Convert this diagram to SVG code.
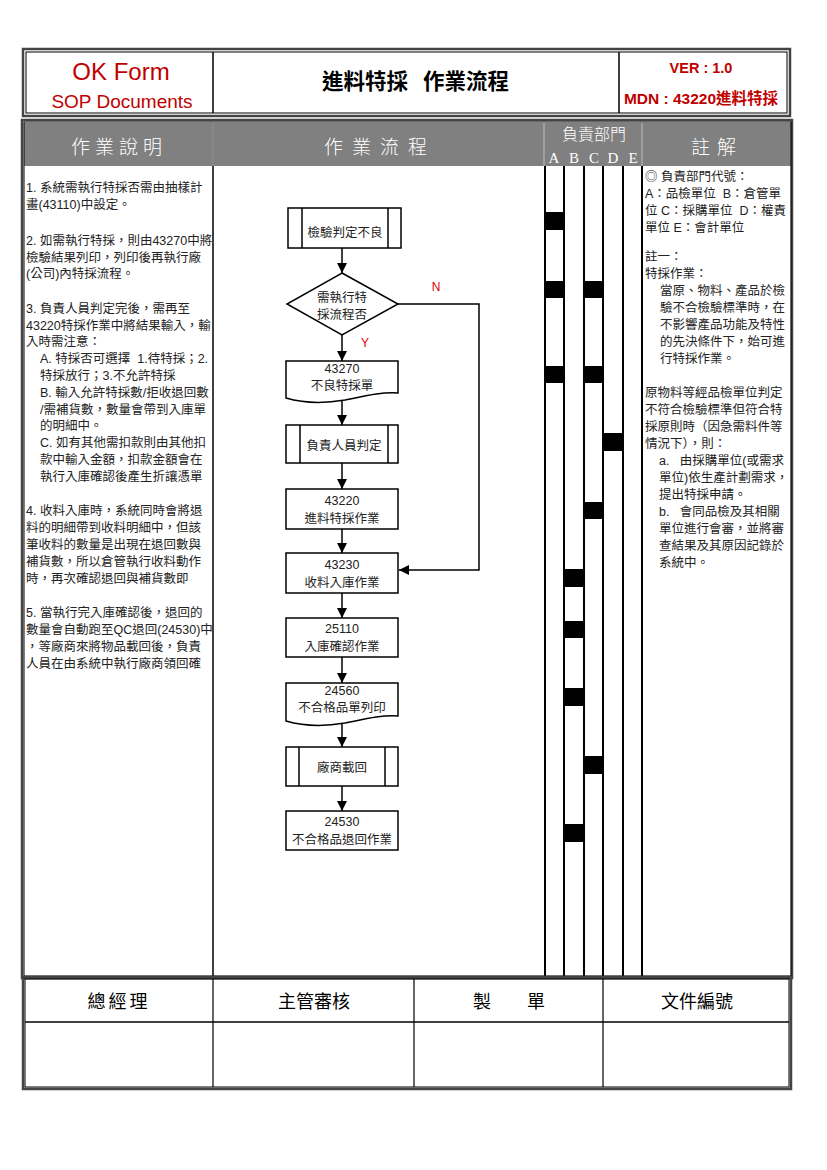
<svg xmlns="http://www.w3.org/2000/svg" width="827" height="1170" viewBox="0 0 827 1170">
<style>
.t{font-family:"Liberation Sans","Noto Sans CJK TC",sans-serif;font-size:12.5px;fill:#222}
.n{font-family:"Liberation Sans","Noto Sans CJK TC",sans-serif;font-size:12.5px;fill:#222;text-anchor:middle}
.hd{font-family:"Noto Sans CJK TC",serif;fill:#fff;text-anchor:middle;font-weight:300}
.ab{font-family:"Liberation Serif",serif;font-size:15px;fill:#fff;text-anchor:middle}
.ft{font-family:"Liberation Sans","Noto Sans CJK TC",sans-serif;font-size:18px;fill:#000;text-anchor:middle}
.red{font-family:"Liberation Sans","Noto Sans CJK TC",sans-serif;fill:#c00000;text-anchor:middle}
.box{fill:#fff;stroke:#000;stroke-width:1.5}
.in{stroke:#000;stroke-width:1.5}
.conn{fill:none;stroke:#000;stroke-width:1.5;marker-end:url(#arr)}
.col{stroke:#000;stroke-width:2}
.blk{fill:#000}
.outer{fill:none;stroke:#444;stroke-width:2.5}
.inner{fill:none;stroke:#000;stroke-width:1}
</style>
<defs>
<marker id="arr" markerUnits="userSpaceOnUse" markerWidth="10" markerHeight="10" refX="10" refY="5" orient="auto">
<path d="M0,0 L10,5 L0,10 z" fill="#000"/>
</marker>
</defs>
<rect width="827" height="1170" fill="#fff"/>

<!-- Header -->
<g id="header">
<rect class="outer" x="23" y="49" width="767" height="67"/>
<rect class="inner" x="26" y="52" width="761" height="61"/>
<line x1="213" y1="52" x2="213" y2="113" stroke="#000" stroke-width="1.5"/>
<line x1="619" y1="52" x2="619" y2="113" stroke="#000" stroke-width="1.5"/>
<text class="red" x="121" y="80" font-size="24">OK Form</text>
<text class="red" x="122" y="108" font-size="19">SOP Documents</text>
<text x="365" y="89" font-family="Liberation Sans,'Noto Sans CJK TC',sans-serif" font-size="21.5" font-weight="bold" text-anchor="middle">進料特採</text>
<text x="466" y="89" font-family="Liberation Sans,'Noto Sans CJK TC',sans-serif" font-size="21.5" font-weight="bold" text-anchor="middle">作業流程</text>
<text class="red" x="701" y="73" font-size="14.5" font-weight="bold">VER : 1.0</text>
<text class="red" x="701" y="104" font-size="15.5" font-weight="bold">MDN : 43220進料特採</text>
</g>

<!-- Main table -->
<g id="table">
<rect class="outer" x="22" y="120" width="770" height="858"/>
<rect x="24" y="123" width="767" height="43" fill="#808080"/>
<rect class="inner" x="24" y="122" width="767" height="854"/>
<line x1="213" y1="123" x2="213" y2="976" stroke="#000" stroke-width="1.5"/>
<line x1="213" y1="123" x2="213" y2="166" stroke="#aaa" stroke-width="1.5"/>
<line x1="544" y1="123" x2="544" y2="166" stroke="#aaa" stroke-width="1.5"/>
<line x1="642" y1="123" x2="642" y2="166" stroke="#aaa" stroke-width="1.5"/>
<text class="hd" x="119" y="154" font-size="19" letter-spacing="5">作業說明</text>
<text class="hd" x="380" y="154" font-size="19" letter-spacing="9">作業流程</text>
<text class="hd" x="594" y="140" font-size="16">負責部門</text>
<text class="ab" x="554" y="163">A</text>
<text class="ab" x="574" y="163">B</text>
<text class="ab" x="594" y="163">C</text>
<text class="ab" x="613" y="163">D</text>
<text class="ab" x="633" y="163">E</text>
<text class="hd" x="717" y="154" font-size="19" letter-spacing="7">註解</text>
<line class="col" x1="545" y1="166" x2="545" y2="976"/>
<line class="col" x1="564" y1="166" x2="564" y2="976"/>
<line class="col" x1="584" y1="166" x2="584" y2="976"/>
<line class="col" x1="603" y1="166" x2="603" y2="976"/>
<line class="col" x1="623" y1="166" x2="623" y2="976"/>
<line class="col" x1="642" y1="166" x2="642" y2="976"/>
</g>

<!-- Department markers -->
<g id="dept-markers">
<rect class="blk" x="545" y="212" width="19" height="18"/>
<rect class="blk" x="545" y="281" width="19" height="17"/>
<rect class="blk" x="584" y="281" width="19" height="17"/>
<rect class="blk" x="545" y="366" width="19" height="17"/>
<rect class="blk" x="584" y="366" width="19" height="17"/>
<rect class="blk" x="603" y="433" width="20" height="18"/>
<rect class="blk" x="584" y="502" width="19" height="17"/>
<rect class="blk" x="564" y="569" width="20" height="18"/>
<rect class="blk" x="564" y="621" width="20" height="17"/>
<rect class="blk" x="564" y="688" width="20" height="18"/>
<rect class="blk" x="584" y="756" width="19" height="18"/>
<rect class="blk" x="564" y="824" width="20" height="18"/>
</g>

<!-- Left description -->
<g id="description">
<text class="t" x="26" y="192">1. 系統需執行特採否需由抽樣計</text>
<text class="t" x="26" y="209">畫(43110)中設定。</text>
<text class="t" x="26" y="245">2. 如需執行特採，則由43270中將</text>
<text class="t" x="26" y="262">檢驗結果列印，列印後再執行廠</text>
<text class="t" x="26" y="278">(公司)內特採流程。</text>
<text class="t" x="26" y="313">3. 負責人員判定完後，需再至</text>
<text class="t" x="26" y="330">43220特採作業中將結果輸入，輸</text>
<text class="t" x="26" y="346">入時需注意：</text>
<text class="t" x="40" y="363">A. 特採否可選擇&#160;&#160;1.待特採；2.</text>
<text class="t" x="40" y="380">特採放行；3.不允許特採</text>
<text class="t" x="40" y="397">B. 輸入允許特採數/拒收退回數</text>
<text class="t" x="40" y="414">/需補貨數，數量會帶到入庫單</text>
<text class="t" x="40" y="430">的明細中。</text>
<text class="t" x="40" y="447">C. 如有其他需扣款則由其他扣</text>
<text class="t" x="40" y="464">款中輸入金額，扣款金額會在</text>
<text class="t" x="40" y="481">執行入庫確認後產生折讓憑單</text>
<text class="t" x="26" y="515">4. 收料入庫時，系統同時會將退</text>
<text class="t" x="26" y="532">料的明細帶到收料明細中，但該</text>
<text class="t" x="26" y="549">筆收料的數量是出現在退回數與</text>
<text class="t" x="26" y="566">補貨數，所以倉管執行收料動作</text>
<text class="t" x="26" y="583">時，再次確認退回與補貨數即</text>
<text class="t" x="26" y="617">5. 當執行完入庫確認後，退回的</text>
<text class="t" x="26" y="634">數量會自動跑至QC退回(24530)中</text>
<text class="t" x="26" y="651">，等廠商來將物品載回後，負責</text>
<text class="t" x="26" y="668">人員在由系統中執行廠商領回確</text>
</g>

<!-- Right notes -->
<g id="notes">
<text class="t" x="645" y="181">◎ 負責部門代號：</text>
<text class="t" x="645" y="198">A：品檢單位&#160;&#160;B：倉管單</text>
<text class="t" x="645" y="215">位&#160;C：採購單位&#160;&#160;D：權責</text>
<text class="t" x="645" y="232">單位&#160;E：會計單位</text>
<text class="t" x="645" y="261">註一：</text>
<text class="t" x="645" y="278">特採作業：</text>
<text class="t" x="660" y="295">當原、物料、產品於檢</text>
<text class="t" x="660" y="312">驗不合檢驗標準時，在</text>
<text class="t" x="660" y="329">不影響產品功能及特性</text>
<text class="t" x="660" y="346">的先決條件下，始可進</text>
<text class="t" x="660" y="363">行特採作業。</text>
<text class="t" x="645" y="397">原物料等經品檢單位判定</text>
<text class="t" x="645" y="414">不符合檢驗標準但符合特</text>
<text class="t" x="645" y="431">採原則時（因急需料件等</text>
<text class="t" x="645" y="448">情況下），則：</text>
<text class="t" x="659" y="465">a.&#160;&#160;&#160;由採購單位(或需求</text>
<text class="t" x="659" y="482">單位)依生產計劃需求，</text>
<text class="t" x="659" y="499">提出特採申請。</text>
<text class="t" x="659" y="516">b.&#160;&#160;&#160;會同品檢及其相關</text>
<text class="t" x="659" y="533">單位進行會審，並將審</text>
<text class="t" x="659" y="550">查結果及其原因記錄於</text>
<text class="t" x="659" y="567">系統中。</text>
</g>

<!-- Connectors -->
<g id="connectors">
<line class="conn" x1="342" y1="248" x2="342" y2="273"/>
<line class="conn" x1="342" y1="335" x2="342" y2="361"/>
<line class="conn" x1="342" y1="400" x2="342" y2="425"/>
<line class="conn" x1="342" y1="463" x2="342" y2="489"/>
<line class="conn" x1="342" y1="529" x2="342" y2="553"/>
<line class="conn" x1="342" y1="593" x2="342" y2="618"/>
<line class="conn" x1="342" y1="657" x2="342" y2="683"/>
<line class="conn" x1="342" y1="724" x2="342" y2="747"/>
<line class="conn" x1="342" y1="786" x2="342" y2="811"/>
<polyline class="conn" points="398,304 479,304 479,570 399,570"/>
<text x="436" y="291" font-family="Liberation Sans,sans-serif" font-size="12" fill="#e00000" text-anchor="middle">N</text>
<text x="365" y="347" font-family="Liberation Sans,sans-serif" font-size="12" fill="#e00000" text-anchor="middle">Y</text>
</g>

<!-- Flow nodes -->
<g id="node-inspect">
<rect class="box" x="288" y="208" width="113" height="40"/>
<line class="in" x1="302" y1="208" x2="302" y2="248"/>
<line class="in" x1="388" y1="208" x2="388" y2="248"/>
<text class="n" x="345" y="237">檢驗判定不良</text>
</g>
<g id="node-decision">
<polygon class="box" points="342,273 398,304 342,335 287,304"/>
<text class="n" x="342" y="302">需執行特</text>
<text class="n" x="342" y="319">採流程否</text>
</g>
<g id="node-43270">
<path class="box" d="M286,361 H398 V393 C380,392 365,396 345,400 C322,404 303,403 286,398 Z"/>
<text class="n" x="342" y="373">43270</text>
<text class="n" x="342" y="390">不良特採單</text>
</g>
<g id="node-judge">
<rect class="box" x="286" y="425" width="112" height="38"/>
<line class="in" x1="300" y1="425" x2="300" y2="463"/>
<line class="in" x1="388" y1="425" x2="388" y2="463"/>
<text class="n" x="344" y="450">負責人員判定</text>
</g>
<g id="node-43220">
<rect class="box" x="286" y="489" width="112" height="40"/>
<text class="n" x="342" y="505">43220</text>
<text class="n" x="342" y="523">進料特採作業</text>
</g>
<g id="node-43230">
<rect class="box" x="286" y="553" width="112" height="40"/>
<text class="n" x="342" y="569">43230</text>
<text class="n" x="342" y="587">收料入庫作業</text>
</g>
<g id="node-25110">
<rect class="box" x="286" y="618" width="112" height="39"/>
<text class="n" x="342" y="633">25110</text>
<text class="n" x="342" y="651">入庫確認作業</text>
</g>
<g id="node-24560">
<path class="box" d="M286,683 H398 V716 C380,715 365,719 345,723 C322,727 303,726 286,721 Z"/>
<text class="n" x="342" y="695">24560</text>
<text class="n" x="342" y="712">不合格品單列印</text>
</g>
<g id="node-pickup">
<rect class="box" x="286" y="747" width="112" height="39"/>
<line class="in" x1="299" y1="747" x2="299" y2="786"/>
<line class="in" x1="385" y1="747" x2="385" y2="786"/>
<text class="n" x="342" y="772">廠商載回</text>
</g>
<g id="node-24530">
<rect class="box" x="286" y="811" width="112" height="39"/>
<text class="n" x="342" y="826">24530</text>
<text class="n" x="342" y="844">不合格品退回作業</text>
</g>

<!-- Footer -->
<g id="footer">
<rect class="outer" x="23" y="977" width="768" height="112"/>
<rect class="inner" x="25" y="979" width="764" height="108"/>
<line x1="25" y1="1022" x2="789" y2="1022" stroke="#000" stroke-width="1.5"/>
<line x1="213" y1="979" x2="213" y2="1087" stroke="#000" stroke-width="1.2"/>
<line x1="414" y1="979" x2="414" y2="1087" stroke="#000" stroke-width="1.2"/>
<line x1="603" y1="979" x2="603" y2="1087" stroke="#000" stroke-width="1.2"/>
<text class="ft" x="119" y="1008" letter-spacing="3">總經理</text>
<text class="ft" x="314" y="1008">主管審核</text>
<text class="ft" x="509" y="1008">製　　單</text>
<text class="ft" x="697" y="1008">文件編號</text>
</g>
</svg>
